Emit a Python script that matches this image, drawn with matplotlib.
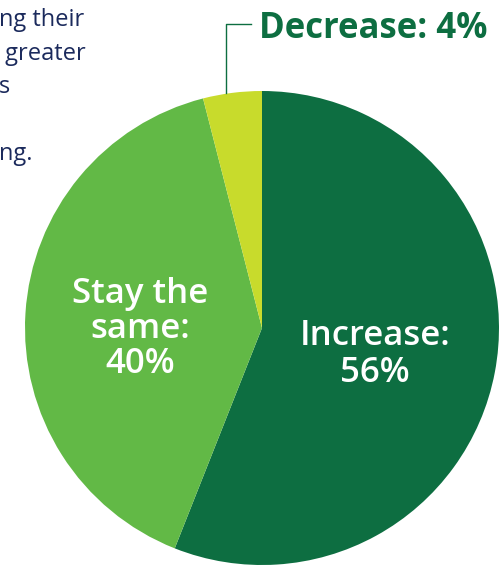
import matplotlib
matplotlib.use("Agg")
import matplotlib.pyplot as plt

categories = ["Increase", "Stay the same", "Decrease"]
values = [56, 40, 4]
colors = ["#0D6E41", "#62B946", "#C8DB2C"]
intro_lines = ["ng their", " greater", "s", "", "ng."]

W, H = 499, 567
fig = plt.figure(figsize=(W / 100, H / 100), dpi=100)
ax = fig.add_axes([0, 0, 1, 1])

cx, cy, r = 262, H - 328, 237
ax.pie(values, colors=colors, startangle=90, counterclock=False,
       center=(cx, cy), radius=r, frame=True,
       wedgeprops=dict(linewidth=0))
ax.set_xlim(0, W)
ax.set_ylim(0, H)
ax.set_aspect("equal")
ax.axis("off")

font = "Open Sans"
# intro text (cut off on the left)
for i, line in enumerate(intro_lines):
    ax.text(-1, H - (26 + i * 33.5), line, ha="left", va="baseline",
            fontsize=17, color="#1B2A5C", family=font)

def stack(x, baselines, lines, **kw):
    for b, t in zip(baselines, lines):
        ax.text(x, H - b, t, ha="center", va="baseline", **kw)

style = dict(fontsize=25, color="white", family=font, fontweight="semibold")
stack(375, [345, 382], [f"{categories[0]}:", f"{values[0]}%"], **style)
stack(140, [303, 338, 373], ["Stay the", "same:", f"{values[1]}%"], **style)

# outside label with leader
ax.text(259, H - 38, f"{categories[2]}: {values[2]}%", ha="left",
        va="baseline", fontsize=25, color="#0D6E41", family=font,
        fontweight="bold")
ax.plot([226, 226, 251], [H - 93, H - 24, H - 24], color="#0D6E41",
        linewidth=1)

fig.savefig("out.png", dpi=100)
